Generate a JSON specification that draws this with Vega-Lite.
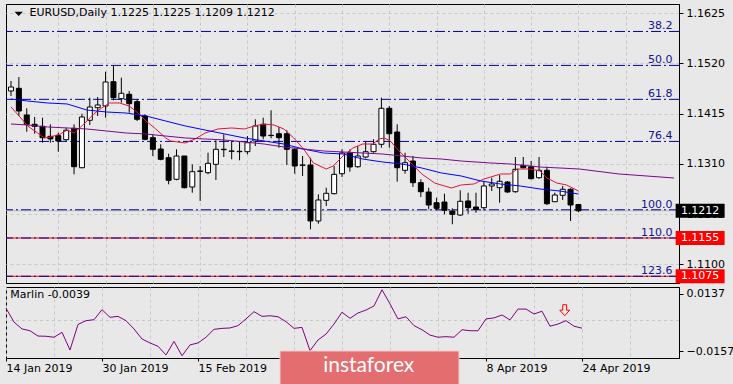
{
  "$schema": "https://vega.github.io/schema/vega-lite/v6.json",
  "background": "#e8e8e8",
  "padding": {"left": 3, "top": 3, "right": 0, "bottom": 0},
  "spacing": 2,
  "config": {
    "view": {"stroke": "#000000", "strokeWidth": 1, "fill": "#e8e8e8"},
    "font": "DejaVu Sans",
    "text": {"font": "DejaVu Sans", "fontSize": 11}
  },
  "datasets": {
    "candles": [
      {"i":0,"o":1.14625,"h":1.14834,"l":1.1452,"c":1.14708},
      {"i":1,"o":1.14681,"h":1.14917,"l":1.14102,"c":1.14206},
      {"i":2,"o":1.14123,"h":1.14263,"l":1.13773,"c":1.13928},
      {"i":3,"o":1.13928,"h":1.14081,"l":1.13731,"c":1.13886},
      {"i":4,"o":1.13886,"h":1.14066,"l":1.13543,"c":1.13648},
      {"i":5,"o":1.13677,"h":1.13928,"l":1.13543,"c":1.13621},
      {"i":6,"o":1.1369,"h":1.13752,"l":1.13355,"c":1.13579},
      {"i":7,"o":1.13606,"h":1.13857,"l":1.13579,"c":1.13803},
      {"i":8,"o":1.13844,"h":1.13928,"l":1.12882,"c":1.13041},
      {"i":9,"o":1.1302,"h":1.1415,"l":1.13008,"c":1.14081},
      {"i":10,"o":1.14012,"h":1.14484,"l":1.13913,"c":1.1429},
      {"i":11,"o":1.14275,"h":1.14499,"l":1.14102,"c":1.14332},
      {"i":12,"o":1.14311,"h":1.15028,"l":1.14066,"c":1.14813},
      {"i":13,"o":1.14819,"h":1.15162,"l":1.1443,"c":1.14484},
      {"i":14,"o":1.14464,"h":1.14903,"l":1.1438,"c":1.14577},
      {"i":15,"o":1.14556,"h":1.14625,"l":1.14171,"c":1.14359},
      {"i":16,"o":1.14401,"h":1.14451,"l":1.13997,"c":1.14033},
      {"i":17,"o":1.14102,"h":1.14137,"l":1.13593,"c":1.13614},
      {"i":18,"o":1.13648,"h":1.13719,"l":1.13265,"c":1.13405},
      {"i":19,"o":1.13411,"h":1.1351,"l":1.13175,"c":1.13196},
      {"i":20,"o":1.1323,"h":1.13313,"l":1.12673,"c":1.12757},
      {"i":21,"o":1.12778,"h":1.13405,"l":1.12757,"c":1.13265},
      {"i":22,"o":1.13265,"h":1.13265,"l":1.12589,"c":1.12602},
      {"i":23,"o":1.12617,"h":1.13091,"l":1.12497,"c":1.12937},
      {"i":24,"o":1.12951,"h":1.13056,"l":1.12324,"c":1.12945},
      {"i":25,"o":1.12916,"h":1.13334,"l":1.12882,"c":1.13112},
      {"i":26,"o":1.13091,"h":1.13593,"l":1.12763,"c":1.13405},
      {"i":27,"o":1.13405,"h":1.13719,"l":1.13244,"c":1.13398},
      {"i":28,"o":1.1337,"h":1.13579,"l":1.13196,"c":1.13364},
      {"i":29,"o":1.13363,"h":1.13564,"l":1.13175,"c":1.13355},
      {"i":30,"o":1.13355,"h":1.13683,"l":1.13301,"c":1.13543},
      {"i":31,"o":1.13579,"h":1.14033,"l":1.13474,"c":1.13893},
      {"i":32,"o":1.13928,"h":1.14066,"l":1.13614,"c":1.13683},
      {"i":33,"o":1.13698,"h":1.14221,"l":1.13635,"c":1.13692},
      {"i":34,"o":1.13731,"h":1.13872,"l":1.13439,"c":1.13648},
      {"i":35,"o":1.13731,"h":1.13803,"l":1.13077,"c":1.13405},
      {"i":36,"o":1.13405,"h":1.13439,"l":1.12895,"c":1.13056},
      {"i":37,"o":1.13077,"h":1.13265,"l":1.12847,"c":1.13071},
      {"i":38,"o":1.13077,"h":1.1323,"l":1.11732,"c":1.11906},
      {"i":39,"o":1.11906,"h":1.12464,"l":1.11849,"c":1.12345},
      {"i":40,"o":1.12338,"h":1.12602,"l":1.12219,"c":1.12485},
      {"i":41,"o":1.12477,"h":1.13056,"l":1.12464,"c":1.12882},
      {"i":42,"o":1.12895,"h":1.13405,"l":1.12826,"c":1.13328},
      {"i":43,"o":1.13328,"h":1.13405,"l":1.12937,"c":1.13035},
      {"i":44,"o":1.13041,"h":1.13474,"l":1.1302,"c":1.13265},
      {"i":45,"o":1.13244,"h":1.13564,"l":1.13217,"c":1.13355},
      {"i":46,"o":1.13355,"h":1.13614,"l":1.13334,"c":1.1351},
      {"i":47,"o":1.1351,"h":1.14484,"l":1.13439,"c":1.14263},
      {"i":48,"o":1.14263,"h":1.14311,"l":1.13439,"c":1.13731},
      {"i":49,"o":1.13767,"h":1.13928,"l":1.12728,"c":1.1302},
      {"i":50,"o":1.12966,"h":1.13334,"l":1.12895,"c":1.13125},
      {"i":51,"o":1.1316,"h":1.13265,"l":1.12617,"c":1.12707},
      {"i":52,"o":1.12707,"h":1.12778,"l":1.12408,"c":1.12518},
      {"i":53,"o":1.12512,"h":1.12602,"l":1.1215,"c":1.1224},
      {"i":54,"o":1.12288,"h":1.12393,"l":1.12129,"c":1.12171},
      {"i":55,"o":1.12303,"h":1.12477,"l":1.12046,"c":1.12129},
      {"i":56,"o":1.12115,"h":1.12171,"l":1.11837,"c":1.12046},
      {"i":57,"o":1.12031,"h":1.12548,"l":1.1201,"c":1.12318},
      {"i":58,"o":1.12324,"h":1.12497,"l":1.12058,"c":1.12184},
      {"i":59,"o":1.12198,"h":1.12497,"l":1.12079,"c":1.1215},
      {"i":60,"o":1.12184,"h":1.12742,"l":1.12129,"c":1.12638},
      {"i":61,"o":1.12638,"h":1.12811,"l":1.12533,"c":1.12679},
      {"i":62,"o":1.12602,"h":1.12868,"l":1.12288,"c":1.12736},
      {"i":63,"o":1.12721,"h":1.12742,"l":1.12497,"c":1.12512},
      {"i":64,"o":1.12518,"h":1.13244,"l":1.12497,"c":1.12987},
      {"i":65,"o":1.13071,"h":1.13244,"l":1.13004,"c":1.1302},
      {"i":66,"o":1.13041,"h":1.1316,"l":1.12778,"c":1.1279},
      {"i":67,"o":1.12811,"h":1.13244,"l":1.1279,"c":1.12966},
      {"i":68,"o":1.12966,"h":1.13041,"l":1.1224,"c":1.12267},
      {"i":69,"o":1.12309,"h":1.12497,"l":1.12303,"c":1.12449},
      {"i":70,"o":1.12443,"h":1.12638,"l":1.12345,"c":1.12569},
      {"i":71,"o":1.12569,"h":1.12589,"l":1.11906,"c":1.1224},
      {"i":72,"o":1.1225,"h":1.1225,"l":1.1209,"c":1.1212}
    ],
    "ma": [
      {"s":"fast","i":0,"p":1.1429},{"s":"fast","i":1.25,"p":1.1406},{"s":"fast","i":2.125,"p":1.13893},{"s":"fast","i":3.375,"p":1.13746},{"s":"fast","i":4.25,"p":1.13642},{"s":"fast","i":5,"p":1.13662},{"s":"fast","i":6.25,"p":1.13725},{"s":"fast","i":7.125,"p":1.13809},{"s":"fast","i":8,"p":1.13746},{"s":"fast","i":9.25,"p":1.13934},{"s":"fast","i":10.5,"p":1.14144},{"s":"fast","i":11.5,"p":1.14269},{"s":"fast","i":12.5,"p":1.14374},{"s":"fast","i":13.75,"p":1.14374},{"s":"fast","i":15,"p":1.14311},{"s":"fast","i":16.125,"p":1.14164},{"s":"fast","i":17.125,"p":1.13997},{"s":"fast","i":18.375,"p":1.1383},{"s":"fast","i":19.625,"p":1.13642},{"s":"fast","i":20.25,"p":1.13579},{"s":"fast","i":22.125,"p":1.13537},{"s":"fast","i":23.375,"p":1.13621},{"s":"fast","i":24.625,"p":1.13746},{"s":"fast","i":26.25,"p":1.1383},{"s":"fast","i":28,"p":1.13851},{"s":"fast","i":29.625,"p":1.1383},{"s":"fast","i":30.875,"p":1.13893},{"s":"fast","i":32.125,"p":1.13934},{"s":"fast","i":33.375,"p":1.13913},{"s":"fast","i":34.625,"p":1.1383},{"s":"fast","i":35.875,"p":1.13642},{"s":"fast","i":37.125,"p":1.13411},{"s":"fast","i":38.375,"p":1.13119},{"s":"fast","i":40,"p":1.12993},{"s":"fast","i":40.875,"p":1.13056},{"s":"fast","i":42.125,"p":1.13265},{"s":"fast","i":43.375,"p":1.13432},{"s":"fast","i":44.625,"p":1.13516},{"s":"fast","i":45.875,"p":1.13516},{"s":"fast","i":46.75,"p":1.13621},{"s":"fast","i":47.375,"p":1.13642},{"s":"fast","i":48.125,"p":1.13579},{"s":"fast","i":49.25,"p":1.1337},{"s":"fast","i":50.5,"p":1.1316},{"s":"fast","i":52.125,"p":1.12889},{"s":"fast","i":53.75,"p":1.127},{"s":"fast","i":55.875,"p":1.12596},{"s":"fast","i":57.125,"p":1.12659},{"s":"fast","i":58.75,"p":1.1268},{"s":"fast","i":60,"p":1.12784},{"s":"fast","i":60.875,"p":1.12826},{"s":"fast","i":62.125,"p":1.12889},{"s":"fast","i":63.375,"p":1.12889},{"s":"fast","i":64.25,"p":1.12993},{"s":"fast","i":65.875,"p":1.12993},{"s":"fast","i":67.125,"p":1.12951},{"s":"fast","i":68,"p":1.12805},{"s":"fast","i":69.25,"p":1.127},{"s":"fast","i":70.5,"p":1.12659},{"s":"fast","i":72,"p":1.12533},
      {"s":"mid","i":0,"p":1.14457},{"s":"mid","i":2.125,"p":1.14415},{"s":"mid","i":4.625,"p":1.14374},{"s":"mid","i":7.125,"p":1.14353},{"s":"mid","i":9.625,"p":1.14227},{"s":"mid","i":12.125,"p":1.14185},{"s":"mid","i":14.625,"p":1.14164},{"s":"mid","i":17.125,"p":1.14102},{"s":"mid","i":19.625,"p":1.13997},{"s":"mid","i":22.125,"p":1.13893},{"s":"mid","i":24.625,"p":1.13809},{"s":"mid","i":27.125,"p":1.13725},{"s":"mid","i":29.625,"p":1.13642},{"s":"mid","i":32.125,"p":1.13579},{"s":"mid","i":34.625,"p":1.13516},{"s":"mid","i":37.125,"p":1.13411},{"s":"mid","i":39.625,"p":1.13328},{"s":"mid","i":42.125,"p":1.13307},{"s":"mid","i":44.625,"p":1.13202},{"s":"mid","i":47.125,"p":1.1314},{"s":"mid","i":49.625,"p":1.13098},{"s":"mid","i":52.125,"p":1.13014},{"s":"mid","i":54.625,"p":1.1291},{"s":"mid","i":57.125,"p":1.12847},{"s":"mid","i":59.625,"p":1.12742},{"s":"mid","i":62.125,"p":1.12679},{"s":"mid","i":64.625,"p":1.12638},{"s":"mid","i":67.125,"p":1.12575},{"s":"mid","i":69.625,"p":1.12533},{"s":"mid","i":72,"p":1.1247},
      {"s":"slow","i":0,"p":1.13934},{"s":"slow","i":2.125,"p":1.13913},{"s":"slow","i":4.625,"p":1.13872},{"s":"slow","i":7.125,"p":1.13851},{"s":"slow","i":9.625,"p":1.1383},{"s":"slow","i":12.125,"p":1.13788},{"s":"slow","i":14.625,"p":1.13746},{"s":"slow","i":17.125,"p":1.13725},{"s":"slow","i":19.625,"p":1.13683},{"s":"slow","i":22.125,"p":1.13642},{"s":"slow","i":24.625,"p":1.13621},{"s":"slow","i":27.125,"p":1.136},{"s":"slow","i":29.625,"p":1.13558},{"s":"slow","i":32.125,"p":1.13516},{"s":"slow","i":34.625,"p":1.13453},{"s":"slow","i":37.125,"p":1.13411},{"s":"slow","i":39.625,"p":1.1337},{"s":"slow","i":42.125,"p":1.13349},{"s":"slow","i":44.625,"p":1.13328},{"s":"slow","i":47.125,"p":1.13307},{"s":"slow","i":49.625,"p":1.13265},{"s":"slow","i":52.125,"p":1.13223},{"s":"slow","i":54.625,"p":1.13202},{"s":"slow","i":57.125,"p":1.1316},{"s":"slow","i":60.875,"p":1.13119},{"s":"slow","i":63.375,"p":1.13098},{"s":"slow","i":67.125,"p":1.13035},{"s":"slow","i":72.125,"p":1.12993},{"s":"slow","i":77.125,"p":1.12889},{"s":"slow","i":84.125,"p":1.12805}
    ],
    "fib": [
      {"lvl":"38.2","p":1.1587},{"lvl":"50.0","p":1.1516},{"lvl":"61.8","p":1.1445},{"lvl":"76.4","p":1.1357},{"lvl":"100.0","p":1.1214},{"lvl":"110.0","p":1.1155},{"lvl":"123.6","p":1.1075}
    ],
    "tags": [
      {"kind":"bid","p":1.1212},{"kind":"line","p":1.1155},{"kind":"line","p":1.1075}
    ],
    "marlin": [
      {"i":0,"v":0.0062},{"i":1,"v":-0.0008},{"i":2,"v":-0.0043},{"i":3,"v":-0.0052},{"i":4,"v":-0.0079},{"i":5,"v":-0.008},{"i":6,"v":-0.0085},{"i":7,"v":-0.006},{"i":8,"v":-0.015},{"i":9,"v":-0.002},
      {"i":10,"v":-0.0001},{"i":11,"v":0.0004},{"i":12,"v":0.0055},{"i":13,"v":0.0016},{"i":14,"v":0.0021},{"i":15,"v":-0.0001},{"i":16,"v":-0.0043},{"i":17,"v":-0.0094},{"i":18,"v":-0.0114},{"i":19,"v":-0.0131},
      {"i":20,"v":-0.0175},{"i":21,"v":-0.0106},{"i":22,"v":-0.0179},{"i":23,"v":-0.0124},{"i":24,"v":-0.0114},{"i":25,"v":-0.0085},{"i":26,"v":-0.0045},{"i":27,"v":-0.004},{"i":28,"v":-0.0038},{"i":29,"v":-0.0026},
      {"i":30,"v":0.0008},{"i":31,"v":0.0045},{"i":32,"v":0.0021},{"i":33,"v":0.0024},{"i":34,"v":0.0019},{"i":35,"v":-0.0006},{"i":36,"v":-0.004},{"i":37,"v":-0.0035},{"i":38,"v":-0.0153},{"i":39,"v":-0.0099},
      {"i":40,"v":-0.0069},{"i":41,"v":-0.0018},{"i":42,"v":0.0042},{"i":43,"v":0.0011},{"i":44,"v":0.0038},{"i":45,"v":0.0053},{"i":46,"v":0.0074},{"i":47,"v":0.0156},{"i":48,"v":0.0084},{"i":49,"v":0.0008},
      {"i":50,"v":0.0019},{"i":51,"v":-0.0026},{"i":52,"v":-0.0047},{"i":53,"v":-0.0074},{"i":54,"v":-0.0085},{"i":55,"v":-0.0082},{"i":56,"v":-0.0085},{"i":57,"v":-0.0047},{"i":58,"v":-0.0052},{"i":59,"v":-0.0052},
      {"i":60,"v":0.0008},{"i":61,"v":0.0013},{"i":62,"v":0.0028},{"i":63,"v":0.0003},{"i":64,"v":0.0058},{"i":65,"v":0.0058},{"i":66,"v":0.0033},{"i":67,"v":0.0047},{"i":68,"v":-0.0029},{"i":69,"v":-0.0018},
      {"i":70,"v":-0.0001},{"i":71,"v":-0.0029},{"i":72,"v":-0.0039}
    ]
  },
  "vconcat": [
    {
      "width": 673,
      "height": 279,
      "layer": [
        {
          "data": {"values": [{}]},
          "mark": {"type": "rule", "color": "#b8b8b8", "strokeWidth": 1},
          "encoding": {
            "y": {"datum": 1.1212, "type": "quantitative",
              "scale": {"domain": [1.10609, 1.16444], "nice": false, "zero": false},
              "axis": {"orient": "right", "values": [1.11, 1.1205, 1.131, 1.1415, 1.152, 1.1625], "format": ".4f", "grid": true, "gridColor": "#c8c8c8", "gridDash": [3, 3], "tickSize": 4, "tickColor": "#000", "domainColor": "#000", "labelPadding": 3, "labelColor": "#000", "labelFont": "DejaVu Sans", "labelFontSize": 11, "labelOverlap": false, "labelFlush": false, "labelBound": false, "title": null}
            }
          }
        },
        {
          "data": {"name": "fib"},
          "transform": [{"filter": "datum.p < 1.118"}],
          "mark": {"type": "rule", "color": "#ff0000", "strokeWidth": 1},
          "encoding": {"y": {"field": "p", "type": "quantitative"}}
        },
        {
          "data": {"name": "fib"},
          "mark": {"type": "rule", "color": "#000096", "strokeWidth": 1, "strokeDash": [10, 3, 2, 3]},
          "encoding": {"y": {"field": "p", "type": "quantitative"}}
        },
        {
          "data": {"name": "candles"},
          "mark": {"type": "rule", "color": "#000000", "strokeWidth": 1, "clip": true},
          "encoding": {
            "x": {"field": "i", "type": "quantitative",
              "scale": {"domain": [0, 84.125], "nice": false, "zero": false},
              "axis": {"orient": "bottom", "values": [6, 12, 18, 24, 30, 36, 42, 48, 54, 60, 66, 72, 78], "grid": true, "gridColor": "#c8c8c8", "gridDash": [3, 3], "labels": false, "ticks": false, "domain": false, "title": null}
            },
            "y": {"field": "l", "type": "quantitative"},
            "y2": {"field": "h"}
          }
        },
        {
          "data": {"name": "candles"},
          "mark": {"type": "bar", "width": 5, "stroke": "#000000", "strokeWidth": 1, "clip": true},
          "encoding": {
            "x": {"field": "i", "type": "quantitative"},
            "y": {"field": "o", "type": "quantitative"},
            "y2": {"field": "c"},
            "fill": {"condition": {"test": "datum.c >= datum.o", "value": "#ffffff"}, "value": "#000000"}
          }
        },
        {
          "data": {"name": "ma"},
          "mark": {"type": "line", "strokeWidth": 1, "clip": true},
          "encoding": {
            "x": {"field": "i", "type": "quantitative"},
            "y": {"field": "p", "type": "quantitative"},
            "color": {"field": "s", "type": "nominal", "scale": {"domain": ["fast", "mid", "slow"], "range": ["#e0143c", "#0000ff", "#7a0a8a"]}, "legend": null}
          }
        },
        {
          "data": {"name": "fib"},
          "mark": {"type": "text", "align": "right", "baseline": "alphabetic", "dy": -2, "color": "#14148c", "fontSize": 11},
          "encoding": {
            "x": {"datum": 83.94, "type": "quantitative"},
            "y": {"field": "p", "type": "quantitative"},
            "text": {"field": "lvl"}
          }
        },
        {
          "data": {"values": [{}]},
          "mark": {"type": "point", "shape": "M-1,-0.52H1L0,0.52Z", "size": 69, "filled": true, "color": "#000000", "opacity": 1},
          "encoding": {
            "x": {"datum": 0.975, "type": "quantitative"},
            "y": {"datum": 1.16239, "type": "quantitative"}
          }
        },
        {
          "data": {"values": [{}]},
          "mark": {"type": "text", "align": "left", "baseline": "middle", "color": "#000000", "fontSize": 11, "text": "EURUSD,Daily  1.1225 1.1225 1.1209 1.1212"},
          "encoding": {
            "x": {"datum": 2.34, "type": "quantitative"},
            "y": {"datum": 1.16246, "type": "quantitative"}
          }
        },
        {
          "data": {"name": "tags"},
          "mark": {"type": "point", "shape": "M-1,-0.2857H1V0.2857H-1Z", "size": 2401, "filled": true, "strokeWidth": 0, "opacity": 1, "clip": false},
          "encoding": {
            "x": {"datum": 87.44, "type": "quantitative"},
            "y": {"field": "p", "type": "quantitative"},
            "color": {"condition": {"test": "datum.kind == 'bid'", "value": "#000000"}, "value": "#ff0000"}
          }
        },
        {
          "data": {"name": "tags"},
          "mark": {"type": "text", "align": "center", "baseline": "middle", "color": "#ffffff", "fontSize": 11, "clip": false},
          "encoding": {
            "x": {"datum": 87.44, "type": "quantitative"},
            "y": {"field": "p", "type": "quantitative"},
            "text": {"field": "p", "type": "quantitative", "format": ".4f"}
          }
        }
      ]
    },
    {
      "width": 673,
      "height": 71,
      "layer": [
        {
          "data": {"values": [{}]},
          "mark": {"type": "rule", "color": "#c8c8c8", "strokeDash": [3, 3], "strokeWidth": 1},
          "encoding": {
            "y": {"datum": 0, "type": "quantitative",
              "scale": {"domain": [-0.01904, 0.017], "nice": false, "zero": false},
              "axis": {"orient": "right", "values": [-0.0157, 0, 0.0137], "labelExpr": "datum.value == 0 ? '0.00' : format(datum.value, '.4f')", "grid": false, "tickSize": 4, "tickColor": "#000", "domainColor": "#000", "labelPadding": 3, "labelColor": "#000", "labelFont": "DejaVu Sans", "labelFontSize": 11, "labelOverlap": false, "labelFlush": false, "labelBound": false, "title": null}
            }
          }
        },
        {
          "data": {"name": "marlin"},
          "mark": {"type": "line", "color": "#800080", "strokeWidth": 1},
          "encoding": {
            "x": {"field": "i", "type": "quantitative",
              "scale": {"domain": [0, 84.125], "nice": false, "zero": false},
              "axis": {"orient": "bottom", "values": [0, 6, 12, 18, 24, 30, 36, 42, 48, 54, 60, 66, 72, 78], "grid": true, "gridColor": "#c8c8c8", "gridDash": [3, 3], "domain": false, "tickSize": 3, "tickColor": "#000", "tickOpacity": {"condition": {"test": "datum.value % 12 == 0", "value": 1}, "value": 0}, "labelExpr": "datum.value == 0 ? '14 Jan 2019' : datum.value == 12 ? '30 Jan 2019' : datum.value == 24 ? '15 Feb 2019' : datum.value == 60 ? '8 Apr 2019' : datum.value == 72 ? '24 Apr 2019' : ''", "labelAlign": "left", "labelPadding": 1, "labelColor": "#000", "labelFont": "DejaVu Sans", "labelFontSize": 11, "labelOverlap": false, "labelFlush": false, "labelBound": false, "title": null}
            },
            "y": {"field": "v", "type": "quantitative"}
          }
        },
        {
          "data": {"values": [{}]},
          "mark": {"type": "point", "shape": "M-0.35,-1H0.35V0H0.9L0,1L-0.9,0H-0.35Z", "size": 121, "filled": false, "color": "#ff0000", "strokeWidth": 1, "opacity": 1},
          "encoding": {
            "x": {"datum": 69.84, "type": "quantitative"},
            "y": {"datum": 0.00523, "type": "quantitative"}
          }
        },
        {
          "data": {"values": [{}]},
          "mark": {"type": "text", "align": "left", "baseline": "middle", "color": "#000000", "fontSize": 11, "text": "Marlin -0.0039"},
          "encoding": {
            "x": {"datum": 0.54, "type": "quantitative"},
            "y": {"datum": 0.01294, "type": "quantitative"}
          }
        },
        {
          "data": {"values": [{}]},
          "mark": {"type": "rect", "fill": "#e46d70", "stroke": "#f4cccc", "strokeWidth": 1, "clip": false},
          "encoding": {
            "x": {"datum": 34.25, "type": "quantitative"},
            "x2": {"datum": 56.625},
            "y": {"datum": -0.01548, "type": "quantitative"},
            "y2": {"datum": -0.0335}
          }
        },
        {
          "data": {"values": [{}]},
          "mark": {"type": "text", "align": "center", "baseline": "middle", "color": "#ffffff", "font": "Lato", "fontSize": 21, "text": "instaforex", "clip": false},
          "encoding": {
            "x": {"datum": 45.34, "type": "quantitative"},
            "y": {"datum": -0.02335, "type": "quantitative"}
          }
        }
      ]
    }
  ]
}
